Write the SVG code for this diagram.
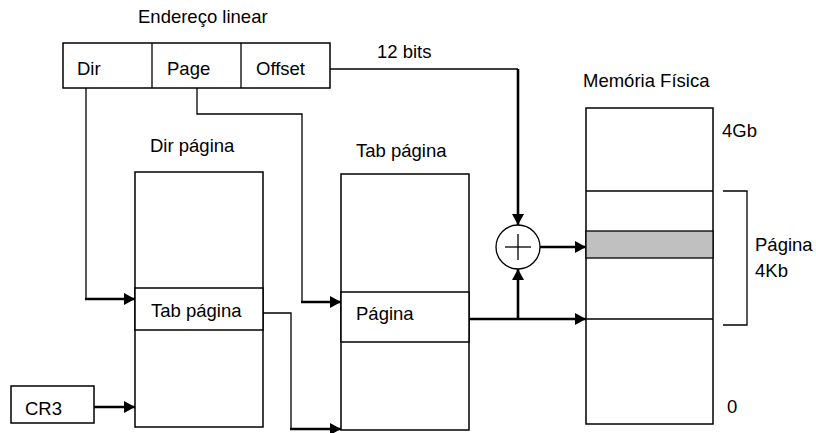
<svg xmlns="http://www.w3.org/2000/svg" width="816" height="433" viewBox="0 0 816 433">
<style>
text{font-family:"Liberation Sans",Arial,sans-serif;font-size:18.5px;fill:#000}
.box{fill:#fff;stroke:#000;stroke-width:1.5}
.thin{fill:none;stroke:#000;stroke-width:1.3}
.thick{fill:none;stroke:#000;stroke-width:2.6}
</style>
<defs>
<marker id="ah" viewBox="0 0 11 12" refX="11" refY="6" markerWidth="11" markerHeight="12" markerUnits="userSpaceOnUse" orient="auto">
<path d="M0,0 L11,6 L0,12 Z" fill="#000"/>
</marker>
</defs>
<rect width="816" height="433" fill="#fff"/>

<g id="linear-address">
<text x="138" y="23">Endereço linear</text>
<rect class="box" x="63" y="43" width="267" height="45"/>
<line class="thin" x1="152" y1="43" x2="152" y2="88"/>
<line class="thin" x1="241" y1="43" x2="241" y2="88"/>
<text x="77" y="75">Dir</text>
<text x="167" y="75">Page</text>
<text x="256" y="75">Offset</text>
</g>

<g id="dir-pagina">
<text x="150" y="152">Dir página</text>
<rect class="box" x="135" y="172" width="128" height="255"/>
<rect class="box" x="135" y="288" width="128" height="42"/>
<text x="151" y="317">Tab página</text>
</g>

<g id="tab-pagina">
<text x="356" y="157">Tab página</text>
<rect class="box" x="341" y="174" width="128" height="256"/>
<rect class="box" x="341" y="292" width="128" height="50"/>
<text x="356" y="320">Página</text>
</g>

<g id="memoria-fisica">
<text x="583" y="87">Memória Física</text>
<rect class="box" x="586" y="108" width="127" height="316"/>
<line class="thin" x1="586" y1="191" x2="713" y2="191"/>
<rect x="586" y="231" width="127" height="27" fill="#c0c0c0" stroke="#000" stroke-width="1.3"/>
<line class="thin" x1="586" y1="319" x2="713" y2="319"/>
<text x="722" y="137">4Gb</text>
<text x="727" y="413">0</text>
<path class="thin" d="M723,191 H747 V325 H723"/>
<text x="755" y="251">Página</text>
<text x="755" y="277">4Kb</text>
</g>

<g id="cr3">
<rect class="box" x="11" y="386" width="83" height="37"/>
<text x="25" y="415">CR3</text>
</g>

<g id="adder">
<circle cx="518" cy="247" r="22" fill="#fff" stroke="#000" stroke-width="1.3"/>
<line class="thin" x1="505" y1="247" x2="531" y2="247"/>
<line class="thin" x1="518" y1="234" x2="518" y2="260"/>
</g>

<g id="connectors">
<text x="377" y="58">12 bits</text>
<path class="thin" d="M330,69 H518"/>
<path class="thick" d="M518,69 V225" marker-end="url(#ah)"/>
<path class="thin" d="M86,88 V299"/>
<path class="thick" d="M85,299 H135" marker-end="url(#ah)"/>
<path class="thin" d="M197,88 V114 H302 V302"/>
<path class="thick" d="M301,302 H341" marker-end="url(#ah)"/>
<path class="thin" d="M263,313 H291 V429"/>
<path class="thick" d="M290,429 H341" marker-end="url(#ah)"/>
<path class="thick" d="M94,407 H135" marker-end="url(#ah)"/>
<path class="thick" d="M469,319 H586" marker-end="url(#ah)"/>
<path class="thick" d="M518,319 V269" marker-end="url(#ah)"/>
<path class="thick" d="M540,247 H586" marker-end="url(#ah)"/>
</g>
</svg>
